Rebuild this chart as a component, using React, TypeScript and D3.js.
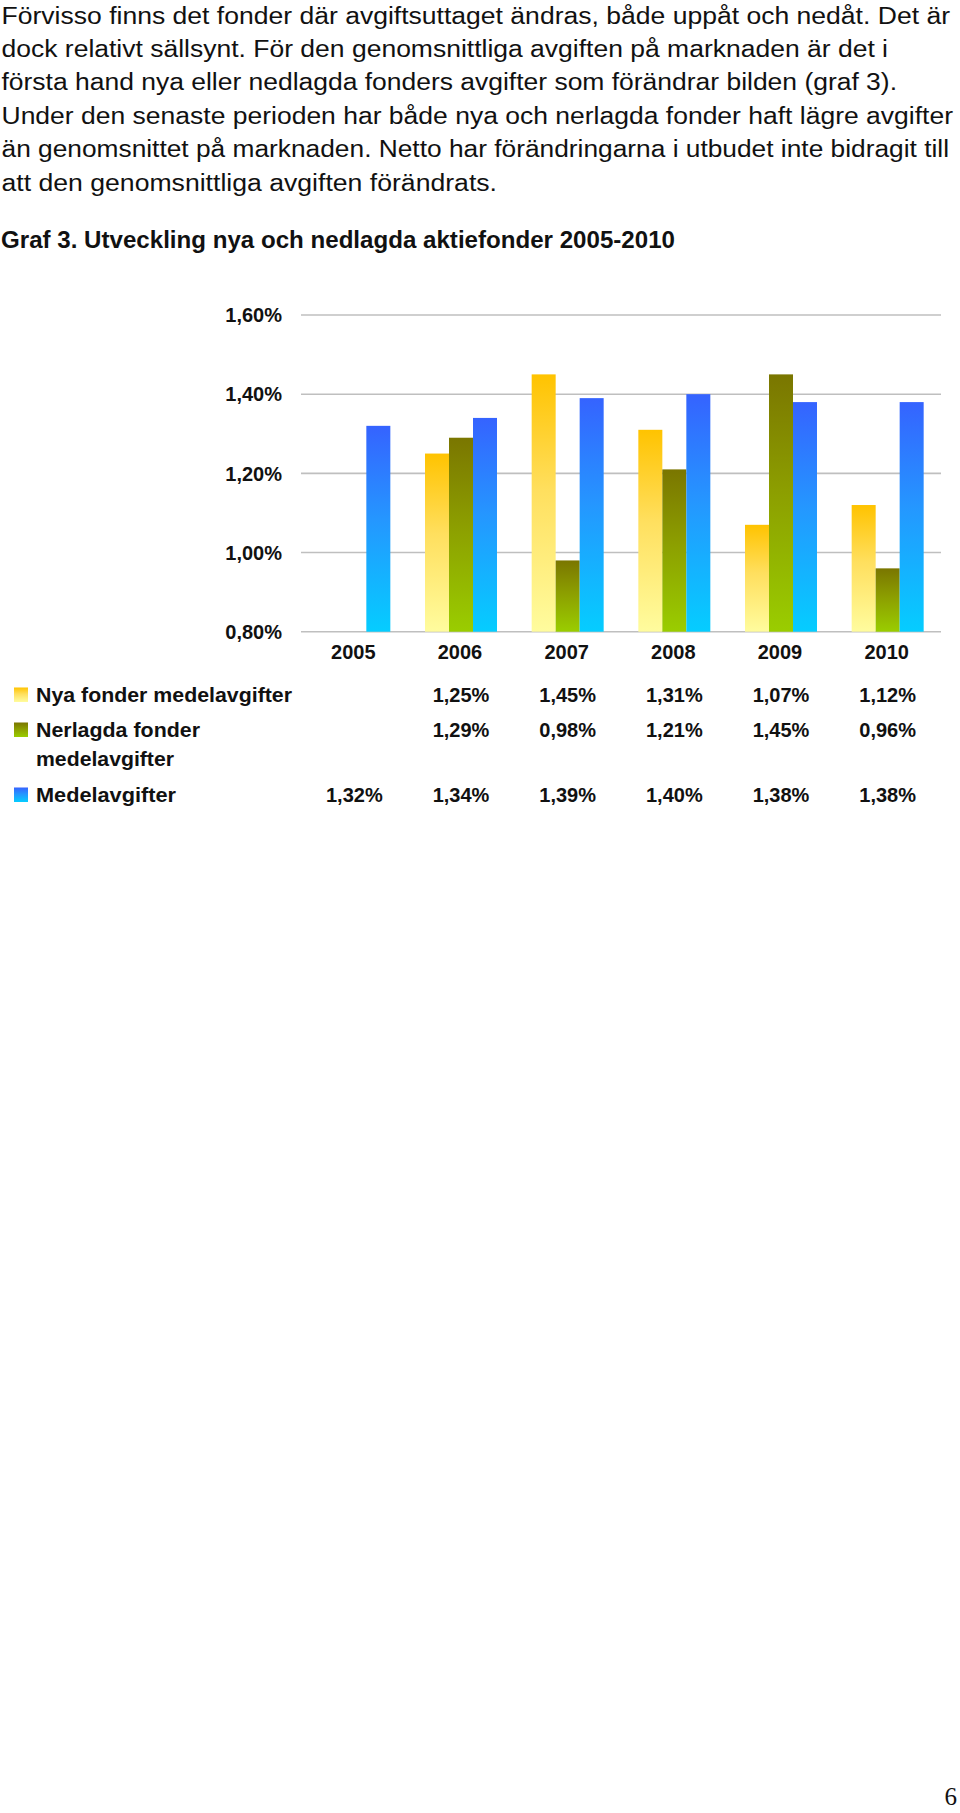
import React from "react";
import * as d3 from "d3";

const bodyLines = [
  "Förvisso finns det fonder där avgiftsuttaget ändras, både uppåt och nedåt. Det är",
  "dock relativt sällsynt. För den genomsnittliga avgiften på marknaden är det i",
  "första hand nya eller nedlagda fonders avgifter som förändrar bilden (graf 3).",
  "Under den senaste perioden har både nya och nerlagda fonder haft lägre avgifter",
  "än genomsnittet på marknaden. Netto har förändringarna i utbudet inte bidragit till",
  "att den genomsnittliga avgiften förändrats.",
];
const bodyLineEnds = [950, 888, 897, 953, 949, 497];
const chartTitle = "Graf 3. Utveckling nya och nedlagda aktiefonder 2005-2010";

const years = ["2005", "2006", "2007", "2008", "2009", "2010"];
const nyaFonder: (number | null)[] = [null, 1.25, 1.45, 1.31, 1.07, 1.12];
const nerlagdaFonder: (number | null)[] = [null, 1.29, 0.98, 1.21, 1.45, 0.96];
const medelavgifter: (number | null)[] = [1.32, 1.34, 1.39, 1.4, 1.38, 1.38];
const yTicks = [0.8, 1.0, 1.2, 1.4, 1.6];

const seriesKeys = ["nya", "nerlagda", "medel"];
const seriesValues = [nyaFonder, nerlagdaFonder, medelavgifter];
const seriesLabels = [["Nya fonder medelavgifter"], ["Nerlagda fonder", "medelavgifter"], ["Medelavgifter"]];
const seriesLabelWidths = [[256], [164], [140]];
const gradients = [
  { id: "gYellow", top: "#FFC300", mid: "#FFDF5E", bottom: "#FFFC9E" },
  { id: "gGreen", top: "#7A7600", mid: "#8C9E00", bottom: "#9ACD00" },
  { id: "gBlue", top: "#3563FF", mid: "#2596FF", bottom: "#05CDFF" },
];

const locale = d3.formatLocale({ decimal: ",", thousands: " ", grouping: [3], currency: ["", " kr"] });
const fmt = (v: number) => locale.format(".2f")(v) + "%";

export default function App() {
  const W = 960;
  const H = 1813;
  const plotLeft = 301;
  const plotRight = 941;
  const x0 = d3.scaleBand<string>().domain(years).range([plotLeft, plotRight]).paddingInner(0.325).paddingOuter(0.1625);
  const x1 = d3.scaleBand<string>().domain(seriesKeys).range([0, x0.bandwidth()]);
  const y = d3.scaleLinear().domain([0.8, 1.6]).range([631.7, 315]);
  const center = (yr: string) => (x0(yr) as number) + x0.bandwidth() / 2;

  const rowBaselines = [702, 737, 802];
  const chartFont = "'Liberation Sans', Arial, Helvetica, sans-serif";

  return (
    <div style={{ position: "absolute", left: 0, top: 0, width: W, height: H, background: "#fff" }}>
      <svg width={W} height={H} style={{ display: "block" }}>
        <defs>
          {gradients.map((g) => (
            <linearGradient key={g.id} id={g.id} x1="0" y1="0" x2="0" y2="1">
              <stop offset="0%" stopColor={g.top} />
              <stop offset="45%" stopColor={g.mid} />
              <stop offset="100%" stopColor={g.bottom} />
            </linearGradient>
          ))}
        </defs>
        <rect x={0} y={0} width={W} height={H} fill="#fff" />

        {/* body text */}
        <g fontFamily={chartFont} fontSize={23.5} fill="#111">
          {bodyLines.map((t, i) => (
            <text key={i} x={1.5} y={23.5 + i * 33.4} textLength={bodyLineEnds[i] - 1.5} lengthAdjust="spacingAndGlyphs">
              {t}
            </text>
          ))}
        </g>
        <text x={1} y={247.5} fontFamily={chartFont} fontSize={23} fontWeight="bold" fill="#111" textLength={674} lengthAdjust="spacingAndGlyphs">
          {chartTitle}
        </text>

        {/* gridlines */}
        <g>
          {yTicks.map((t) => (
            <line key={t} x1={plotLeft} x2={plotRight} y1={y(t)} y2={y(t)} stroke="#bfbfbf" strokeWidth={1.6} />
          ))}
        </g>
        <g fontFamily={chartFont} fontSize={20} fontWeight="bold" fill="#111" textAnchor="end">
          {yTicks.map((t) => (
            <text key={t} x={282} y={y(t) + 7.3}>
              {fmt(t)}
            </text>
          ))}
        </g>

        {/* bars */}
        {seriesValues.map((vals, si) => (
          <g key={seriesKeys[si]} fill={`url(#${gradients[si].id})`}>
            {vals.map((v, i) =>
              v == null ? null : (
                <rect
                  key={years[i]}
                  x={(x0(years[i]) as number) + (x1(seriesKeys[si]) as number)}
                  y={y(v)}
                  width={x1.bandwidth()}
                  height={y(0.8) - y(v)}
                />
              )
            )}
          </g>
        ))}

        {/* year labels */}
        <g fontFamily={chartFont} fontSize={20} fontWeight="bold" fill="#111" textAnchor="middle">
          {years.map((yr) => (
            <text key={yr} x={center(yr) - 1} y={659}>
              {yr}
            </text>
          ))}
        </g>

        {/* data table / legend */}
        {seriesValues.map((vals, si) => (
          <g key={"row" + si} fontFamily={chartFont} fontSize={20.5} fontWeight="bold" fill="#111">
            <rect x={14} y={rowBaselines[si] - 14.5} width={14} height={14.5} fill={`url(#${gradients[si].id})`} />
            {seriesLabels[si].map((lbl, li) => (
              <text key={li} x={36} y={rowBaselines[si] + li * 29} textLength={seriesLabelWidths[si][li] ?? 138} lengthAdjust="spacingAndGlyphs">
                {lbl}
              </text>
            ))}
            {vals.map((v, i) =>
              v == null ? null : (
                <text key={years[i]} x={center(years[i])} y={rowBaselines[si]} textAnchor="middle" fontSize={20}>
                  {fmt(v)}
                </text>
              )
            )}
          </g>
        ))}

        {/* page number */}
        <text x={957} y={1805} textAnchor="end" fontFamily="'Liberation Serif', 'Times New Roman', serif" fontSize={25} fill="#111">
          6
        </text>
      </svg>
    </div>
  );
}
